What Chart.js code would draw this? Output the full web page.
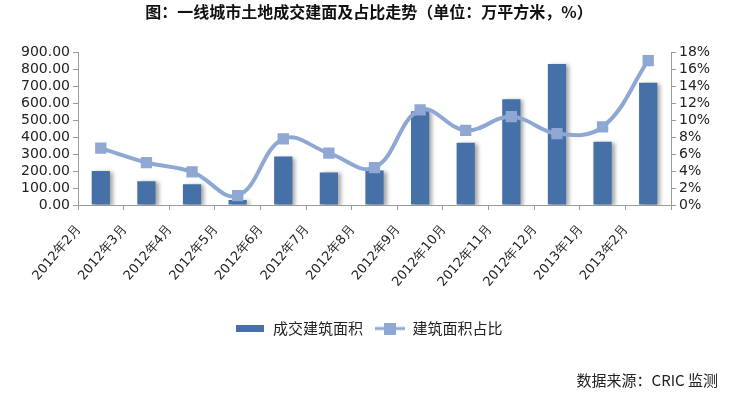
<!DOCTYPE html>
<html>
<head>
<meta charset="utf-8">
<script src="https://cdn.jsdelivr.net/npm/chart.js@4.4.1/dist/chart.umd.min.js"></script>
<style>
  body { margin: 0; background: #fff; }
  #wrap { position: relative; width: 738px; height: 396px; }
  #source {
    position: absolute; right: 20px; top: 369px;
    font: 15px "Noto Sans CJK SC", "DejaVu Sans", sans-serif; color: #222;
  }
</style>
</head>
<body>
<div id="wrap">
  <canvas id="chart" width="738" height="396"></canvas>
  <div id="source">数据来源：CRIC 监测</div>
</div>
<script>
// Data
const months = ['2012年2月', '2012年3月', '2012年4月', '2012年5月', '2012年6月', '2012年7月',
  '2012年8月', '2012年9月', '2012年10月', '2012年11月', '2012年12月', '2013年1月', '2013年2月'];
const area = [200, 140, 122, 30, 285, 192, 203, 552, 366, 623, 830, 372, 720];   // 万平方米
const share = [6.7, 5.0, 3.9, 1.1, 7.8, 6.1, 4.4, 11.2, 8.8, 10.4, 8.4, 9.2, 17.0]; // %
const areaLabel = '成交建筑面积';
const shareLabel = '建筑面积占比';

const BAR_COLOR = '#4571a8';
const LINE_COLOR = '#8ea7d3';
const AXIS_COLOR = '#9a9a9a';
const TICK_FONT = '"DejaVu Sans", sans-serif';

// Small legend icons (flat bar, line with square marker)
function barIcon() {
  const c = document.createElement('canvas');
  c.width = 28; c.height = 7;
  const g = c.getContext('2d');
  g.fillStyle = BAR_COLOR;
  g.fillRect(0, 0, 28, 7);
  return c;
}
function lineIcon() {
  const c = document.createElement('canvas');
  c.width = 30; c.height = 12;
  const g = c.getContext('2d');
  g.strokeStyle = LINE_COLOR;
  g.lineWidth = 3;
  g.beginPath(); g.moveTo(0, 6); g.lineTo(30, 6); g.stroke();
  g.fillStyle = LINE_COLOR;
  g.fillRect(9, 0, 12, 12);
  return c;
}
const icons = [barIcon(), lineIcon()];

// Soft shadow on the right of the bars
const barShadow = {
  id: 'barShadow',
  beforeDatasetDraw(chart, args) {
    if (args.meta.type !== 'bar') return;
    const ctx = chart.ctx;
    ctx.save();
    ctx.shadowColor = 'rgba(0,0,0,0.35)';
    ctx.shadowBlur = 4;
    ctx.shadowOffsetX = 3;
    ctx.shadowOffsetY = 1;
  },
  afterDatasetDraw(chart, args) {
    if (args.meta.type !== 'bar') return;
    chart.ctx.restore();
  }
};

const ctx = document.getElementById('chart').getContext('2d');
const chart = new Chart(ctx, {
  type: 'bar',
  data: {
    labels: months,
    datasets: [
      {
        type: 'bar',
        label: areaLabel,
        data: area,
        backgroundColor: BAR_COLOR,
        yAxisID: 'y',
        barPercentage: 0.4,
        categoryPercentage: 1,
        order: 1
      },
      {
        type: 'line',
        label: shareLabel,
        data: share,
        borderColor: LINE_COLOR,
        backgroundColor: LINE_COLOR,
        borderWidth: 4,
        tension: 0.4,
        pointStyle: 'rect',
        pointRadius: 8,
        pointBorderWidth: 0,
        pointBackgroundColor: LINE_COLOR,
        yAxisID: 'y1',
        order: 0
      }
    ]
  },
  plugins: [barShadow],
  options: {
    responsive: false,
    animation: false,
    layout: { padding: { left: 0, right: 0, top: 0, bottom: 50 } },
    plugins: {
      tooltip: { enabled: false },
      title: {
        display: true,
        text: '图：一线城市土地成交建面及占比走势（单位：万平方米，%）',
        color: '#111',
        font: { family: '"Noto Sans CJK SC", sans-serif', size: 16, weight: 'bold' },
        padding: { top: 2, bottom: 31 }
      },
      legend: {
        position: 'bottom',
        labels: {
          color: '#222',
          font: { family: '"Noto Sans CJK SC", sans-serif', size: 15 },
          usePointStyle: true,
          pointStyleWidth: 30,
          padding: 12,
          sort: (a, b) => a.datasetIndex - b.datasetIndex,
          generateLabels(chart) {
            const items = Chart.defaults.plugins.legend.labels.generateLabels(chart);
            items.forEach(it => { it.pointStyle = icons[it.datasetIndex]; });
            return items;
          }
        }
      }
    },
    scales: {
      x: {
        grid: { display: true, drawOnChartArea: false, tickLength: 5, color: AXIS_COLOR, offset: true },
        border: { display: true, color: AXIS_COLOR },
        ticks: {
          color: '#222',
          font: { family: TICK_FONT, size: 13 },
          minRotation: 50,
          maxRotation: 50,
          autoSkip: false,
          labelOffset: -22,
          padding: 12
        },
        afterFit(s) { s.height = 104; }
      },
      y: {
        position: 'left',
        min: 0,
        max: 900,
        grid: { display: true, drawOnChartArea: false, tickLength: 5, color: AXIS_COLOR },
        border: { display: true, color: AXIS_COLOR },
        ticks: {
          stepSize: 100,
          autoSkip: false,
          color: '#222',
          font: { family: TICK_FONT, size: 14 },
          padding: 3,
          callback: v => v.toFixed(2)
        },
        afterFit(s) { s.width = 78; }
      },
      y1: {
        position: 'right',
        min: 0,
        max: 18,
        grid: { display: true, drawOnChartArea: false, tickLength: 5, color: AXIS_COLOR },
        border: { display: true, color: AXIS_COLOR },
        ticks: {
          stepSize: 2,
          autoSkip: false,
          color: '#222',
          font: { family: TICK_FONT, size: 14 },
          padding: 3,
          callback: v => v + '%'
        },
        afterFit(s) { s.width = 67; }
      }
    }
  }
});
</script>
</body>
</html>
